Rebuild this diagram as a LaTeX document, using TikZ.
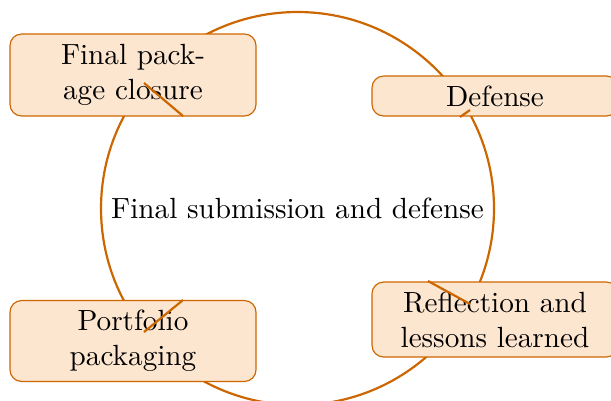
\documentclass[tikz,border=0pt]{standalone}
\begin{document}
\begin{tikzpicture}[x=0.3425pt,y=-0.3425pt,
  ring/.style={draw=ringorange,line width=0.75pt},
  stage/.style={draw=ringorange,line width=0.4pt,fill=stagefill,rounded corners=4pt,
    align=center,inner sep=0pt,font=\fontsize{10}{12}\selectfont},
  tick/.style={draw=ringorange,line width=0.75pt}]
\definecolor{ringorange}{RGB}{204,102,0}
\definecolor{stagefill}{RGB}{253,230,208}
\useasboundingbox (0,0) rectangle (611,400);
\clip (0,0) rectangle (611,400);

% the cycle
\node[ring,circle,minimum size=393*0.3425pt,inner sep=0pt] (cycle) at (297.5,208.5) {};
\node[font=\fontsize{10}{12}\selectfont] (title) at (297.5,208.5) {Final submission and defense};

% stages
\node[stage,minimum width=246*0.3425pt,minimum height=82*0.3425pt] (closure) at (133,75)
  {Final pack-\\age closure};
\node[stage,minimum width=246*0.3425pt,minimum height=40*0.3425pt] (defense) at (495,96)
  {Defense};
\node[stage,minimum width=246*0.3425pt,minimum height=75*0.3425pt] (reflect) at (495,319.5)
  {Reflection and\\lessons learned};
\node[stage,minimum width=246*0.3425pt,minimum height=81*0.3425pt] (folio) at (133,341)
  {Portfolio\\packaging};

% short ticks on the stages
\coordinate (c1) at (144,83);  \coordinate (c2) at (183,116);
\coordinate (d1) at (460,117); \coordinate (d2) at (470,110);
\coordinate (r1) at (428,281); \coordinate (r2) at (470,304);
\coordinate (p1) at (144,332); \coordinate (p2) at (183,300);
\draw[tick] (c1) -- (c2);
\draw[tick] (d1) -- (d2);
\draw[tick] (r1) -- (r2);
\draw[tick] (p1) -- (p2);
\end{tikzpicture}
\end{document}
